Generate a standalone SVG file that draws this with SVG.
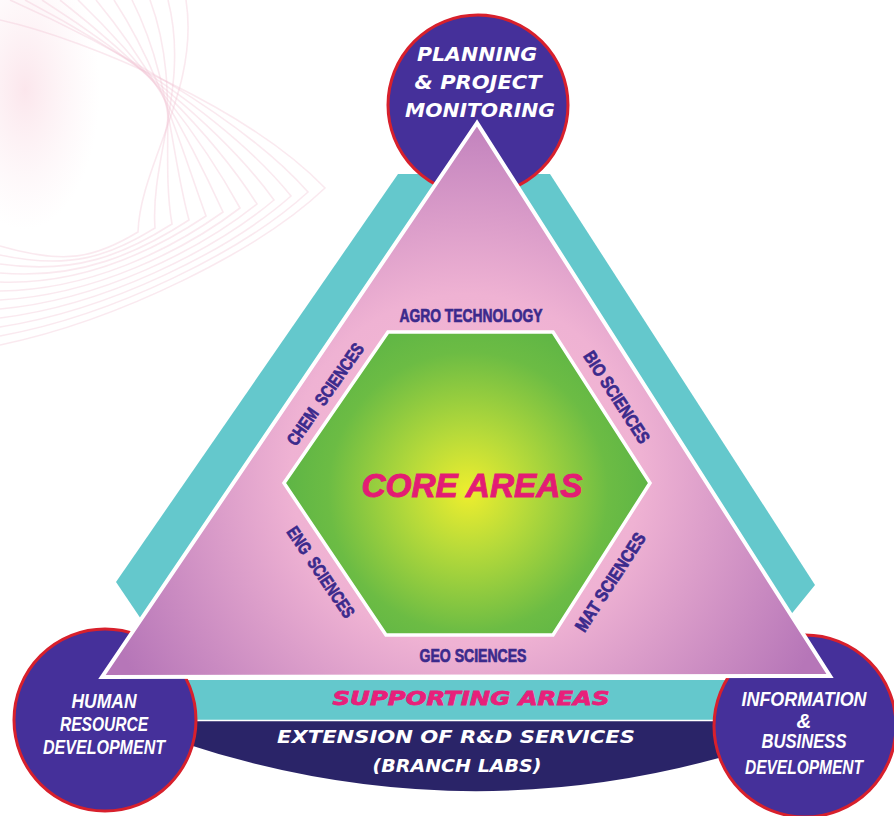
<svg xmlns="http://www.w3.org/2000/svg" width="894" height="816" viewBox="0 0 894 816">
<defs>
<radialGradient id="triGrad" gradientUnits="userSpaceOnUse" cx="466" cy="470" r="390">
<stop offset="0" stop-color="#f7bcd6"/>
<stop offset="0.45" stop-color="#efb2d3"/>
<stop offset="1" stop-color="#b676b8"/>
</radialGradient>
<radialGradient id="hexGrad" gradientUnits="userSpaceOnUse" cx="468" cy="492" r="200">
<stop offset="0" stop-color="#eeee2e"/>
<stop offset="0.3" stop-color="#b6da3a"/>
<stop offset="0.7" stop-color="#6cbc44"/>
<stop offset="1" stop-color="#58b246"/>
</radialGradient>
<radialGradient id="blob" cx="0.5" cy="0.5" r="0.5">
<stop offset="0" stop-color="#f9d6e0" stop-opacity="0.6"/>
<stop offset="1" stop-color="#fbe4eb" stop-opacity="0"/>
</radialGradient>
</defs>
<style>
.swirl{fill:none;stroke:#f2c0d0;stroke-width:1.6;opacity:0.35}
.cyan{fill:#64c8cc}
.circ{fill:#45309a;stroke:#d8202c;stroke-width:3}
.wide{font-family:"DejaVu Sans","Liberation Sans",sans-serif;font-weight:bold;font-style:italic;fill:#ffffff;text-anchor:middle}
.cond{font-family:"Liberation Sans","Arial",sans-serif;font-weight:bold;font-style:italic;fill:#ffffff;text-anchor:middle;font-size:20.5px}
.lab{font-family:"Liberation Sans","Arial",sans-serif;font-weight:bold;fill:#3b2a8c;stroke:#3b2a8c;stroke-width:0.7;text-anchor:middle;font-size:18px}
.pinkt{font-weight:bold;font-style:italic;fill:#e31c74;stroke:#e31c74;stroke-width:1;text-anchor:middle}
</style>

<g id="background">
<ellipse cx="25" cy="90" rx="75" ry="140" fill="url(#blob)"/>
<path class="swirl" d="M0,20 C90,40 250,110 325,188 C260,250 120,320 0,345"/>
<path class="swirl" d="M10,0 C100,40 240,115 308,192 C245,250 115,315 0,336"/>
<path class="swirl" d="M25,0 C110,45 230,120 291,196 C230,250 110,310 0,327"/>
<path class="swirl" d="M42,0 C120,50 220,125 274,200 C215,250 105,305 0,318"/>
<path class="swirl" d="M60,0 C130,55 210,130 257,204 C200,250 100,300 0,309"/>
<path class="swirl" d="M78,0 C140,60 200,135 240,208 C185,250 95,295 0,300"/>
<path class="swirl" d="M96,0 C150,65 190,140 223,212 C170,250 90,290 0,291"/>
<path class="swirl" d="M114,0 C160,70 180,145 206,216 C155,250 85,285 0,282"/>
<path class="swirl" d="M132,0 C170,75 170,150 189,220 C140,252 80,280 0,273"/>
<path class="swirl" d="M150,0 C180,80 160,155 172,224 C125,254 75,275 0,264"/>
<path class="swirl" d="M168,0 C190,85 150,160 155,228 C110,256 70,270 0,255"/>
<path class="swirl" d="M186,0 C200,90 140,165 138,232 C95,258 65,265 0,246"/>
</g>

<g id="bands">
<polygon class="cyan" points="398,174 460,174 143,622 116,582"/>
<polygon class="cyan" points="500,174 550,174 815,585 789,617"/>
</g>

<g id="extension">
<path d="M180,721 L740,721 L740,752 Q460,835 180,742 Z" fill="#2a2468"/>
<rect x="180" y="680" width="560" height="40" class="cyan"/>
<line x1="180" y1="720.5" x2="740" y2="720.5" stroke="#ffffff" stroke-width="1.5"/>
<text class="wide" x="471" y="705" font-size="20" textLength="277" lengthAdjust="spacingAndGlyphs" style="fill:#e8207a;stroke:#e8207a;stroke-width:0.8">SUPPORTING AREAS</text>
<text class="wide" x="456" y="743" font-size="17" textLength="358" lengthAdjust="spacingAndGlyphs">EXTENSION OF R&amp;D SERVICES</text>
<text class="wide" x="457" y="772" font-size="17" textLength="169" lengthAdjust="spacingAndGlyphs">(BRANCH LABS)</text>
</g>

<g id="planning">
<circle class="circ" cx="478" cy="105" r="90"/>
<text class="wide" x="477" y="61" font-size="20" textLength="120" lengthAdjust="spacingAndGlyphs">PLANNING</text>
<text class="wide" x="478" y="89" font-size="20" textLength="127" lengthAdjust="spacingAndGlyphs">&amp; PROJECT</text>
<text class="wide" x="480" y="117" font-size="20" textLength="150" lengthAdjust="spacingAndGlyphs">MONITORING</text>
</g>

<g id="hrd">
<circle class="circ" cx="105" cy="720" r="91"/>
<text class="cond" x="104" y="708" textLength="65" lengthAdjust="spacingAndGlyphs">HUMAN</text>
<text class="cond" x="104" y="731" textLength="88" lengthAdjust="spacingAndGlyphs">RESOURCE</text>
<text class="cond" x="104" y="754" textLength="122" lengthAdjust="spacingAndGlyphs">DEVELOPMENT</text>
</g>

<g id="ibd">
<circle class="circ" cx="805" cy="726" r="91"/>
<text class="cond" x="804" y="706" textLength="125" lengthAdjust="spacingAndGlyphs">INFORMATION</text>
<text class="cond" x="804" y="728" font-size="16">&amp;</text>
<text class="cond" x="804" y="748" textLength="85" lengthAdjust="spacingAndGlyphs">BUSINESS</text>
<text class="cond" x="804" y="774" textLength="118" lengthAdjust="spacingAndGlyphs">DEVELOPMENT</text>
</g>

<g id="supporting">
<polygon points="477,123 102,677 830,676" fill="url(#triGrad)" stroke="#ffffff" stroke-width="4" stroke-linejoin="miter"/>
</g>

<g id="core">
<polygon points="388,332 553,332 650,483 553,635 386,635 284,483" fill="url(#hexGrad)" stroke="#ffffff" stroke-width="3.5"/>
<text x="472" y="497" font-family="Liberation Sans, Arial, sans-serif" font-size="33" class="pinkt" textLength="221" lengthAdjust="spacingAndGlyphs">CORE AREAS</text>
<text class="lab" x="471" y="322" textLength="143" lengthAdjust="spacingAndGlyphs">AGRO TECHNOLOGY</text>
<text class="lab" x="473" y="662" textLength="107" lengthAdjust="spacingAndGlyphs">GEO SCIENCES</text>
<text class="lab" transform="translate(325,394) rotate(-55)" x="0" y="6.5" textLength="120" lengthAdjust="spacingAndGlyphs" xml:space="preserve">CHEM  SCIENCES</text>
<text class="lab" transform="translate(617,397) rotate(57)" x="0" y="6.5" textLength="106" lengthAdjust="spacingAndGlyphs">BIO SCIENCES</text>
<text class="lab" transform="translate(321,572) rotate(56)" x="0" y="6.5" textLength="106" lengthAdjust="spacingAndGlyphs" xml:space="preserve">ENG  SCIENCES</text>
<text class="lab" transform="translate(610,582) rotate(-57)" x="0" y="6.5" textLength="114" lengthAdjust="spacingAndGlyphs">MAT SCIENCES</text>
</g>
</svg>
